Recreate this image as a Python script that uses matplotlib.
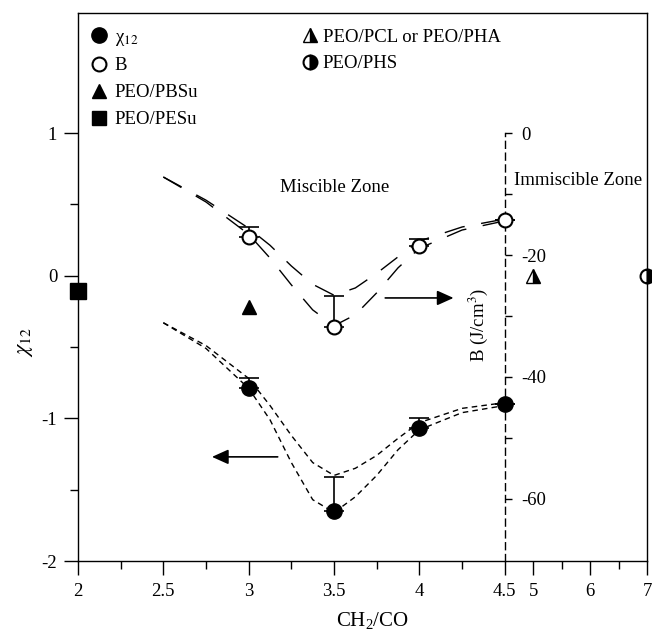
import numpy as np
import matplotlib
matplotlib.use("Agg")
import matplotlib.pyplot as plt
from matplotlib.lines import Line2D

plt.rcParams["font.family"] = ["Liberation Serif", "DejaVu Serif"]
plt.rcParams["mathtext.fontset"] = "stix"
plt.rcParams["axes.unicode_minus"] = False

# --- measured points (CH2/CO ratio) ---
ratio = [3.0, 3.5, 4.0, 4.5]
chi12 = [-0.79, -1.65, -1.07, -0.90]
chi12_err = [0.07, 0.24, 0.07, 0.0]
b_param = [-17.0, -31.8, -18.5, -14.3]
b_err = [1.6, 5.1, 1.1, 0.0]

# other blends
pesu_x, pesu_chi = [2.0], [-0.11]
pbsu_x, pbsu_chi = [3.0], [-0.22]
pcl_x, pcl_chi = [5.0], [0.0]
phs_x, phs_chi = [7.0], [0.0]

# dashed guide curves
fit_x = [2.5, 2.75, 3.0, 3.125, 3.25, 3.375, 3.5, 3.625, 3.75, 3.875, 4.0, 4.25, 4.5]
chi_fit_hi = [-0.33, -0.49, -0.72, -0.91, -1.12, -1.31, -1.40, -1.35, -1.26, -1.14, -1.03, -0.93, -0.89]
chi_fit_lo = [-0.33, -0.51, -0.79, -1.01, -1.31, -1.57, -1.66, -1.55, -1.40, -1.22, -1.08, -0.96, -0.91]
b_fit_hi = [-7.2, -11.0, -15.6, -18.4, -21.8, -24.8, -26.6, -25.4, -23.0, -20.3, -17.7, -15.4, -14.1]
b_fit_lo = [-7.2, -11.3, -16.6, -20.5, -24.9, -29.0, -31.6, -29.8, -26.2, -22.1, -18.9, -15.9, -14.4]

x_ticks = [2, 2.5, 3, 3.5, 4, 4.5, 5, 6, 7]
x_tick_labels = ["2", "2.5", "3", "3.5", "4", "4.5", "5", "6", "7"]
x_minor = [2.25, 2.75, 3.25, 3.75, 4.25, 5.5, 6.5]
chi_ticks = [1, 0, -1, -2]
chi_minor = [0.5, -0.5, -1.5]
b_ticks = [0, -20, -40, -60]
b_minor = [-10, -30, -50]


def fwd(x):
    x = np.asarray(x, dtype=float)
    return np.where(x <= 4.5, x, 4.5 + (x - 4.5) / 3.0)


def inv(y):
    y = np.asarray(y, dtype=float)
    return np.where(y <= 4.5, y, 4.5 + (y - 4.5) * 3.0)


FS = 13.5
fig = plt.figure(figsize=(6.52, 6.30), dpi=100)
ax = fig.add_axes([0.1196, 0.1095, 0.8727, 0.8698])
ax.set_xscale("function", functions=(fwd, inv))
ax.set_xlim(2, 7)
ax.set_ylim(-2, 1.841)

ax2 = ax.twinx()
ax2.set_ylim(-70.2, 19.7)

# --- guide curves ---
ax.plot(fit_x, chi_fit_hi, color="black", lw=1, dashes=(4, 3))
ax.plot(fit_x, chi_fit_lo, color="black", lw=1, dashes=(4, 3))
ax2.plot(fit_x, b_fit_hi, color="black", lw=1, dashes=(15, 12))
ax2.plot(fit_x, b_fit_lo, color="black", lw=1, dashes=(15, 12))

# --- data with one-sided error bars ---
ax.errorbar(ratio, chi12, yerr=[np.zeros(len(ratio)), chi12_err], fmt="none",
            ecolor="black", elinewidth=1.2, capsize=7, capthick=1.2, zorder=3)
ax.plot(ratio, chi12, "o", ms=11, mfc="black", mec="black", ls="none",
        zorder=4, clip_on=False)
ax2.errorbar(ratio, b_param, yerr=[np.zeros(len(ratio)), b_err], fmt="none",
             ecolor="black", elinewidth=1.2, capsize=7, capthick=1.2, zorder=3)
ax2.plot(ratio, b_param, "o", ms=10, mfc="white", mec="black", mew=1.5,
         ls="none", zorder=4, clip_on=False)

ax.plot(pesu_x, pesu_chi, "s", ms=11, color="black", clip_on=False, zorder=5)
ax.plot(pbsu_x, pbsu_chi, "^", ms=10, color="black", clip_on=False, zorder=5)
ax.plot(pcl_x, pcl_chi, "^", ms=10, mfc="black", mfcalt="white", mec="black",
        fillstyle="right", clip_on=False, zorder=5)
ax.plot(phs_x, phs_chi, "o", ms=10, mfc="black", mfcalt="white", mec="black",
        mew=1.5, fillstyle="right", clip_on=False, zorder=5)

# --- arrows pointing to the relevant axis ---
arrow = dict(arrowstyle="-|>,head_length=1.0,head_width=0.45",
             mutation_scale=10, lw=1.2, color="black", shrinkA=0, shrinkB=0)
ax.annotate("", xy=(4.20, -0.156), xytext=(3.80, -0.156), arrowprops=arrow)
ax.annotate("", xy=(2.785, -1.27), xytext=(3.17, -1.27), arrowprops=arrow)

ax.text(0.355, 0.682, "Miscible Zone", transform=ax.transAxes,
        ha="left", va="center", fontsize=FS)
ax.text(0.766, 0.695, "Immiscible Zone", transform=ax.transAxes,
        ha="left", va="center", fontsize=FS)

# --- left / bottom axes ---
ax.set_xticks(x_ticks)
ax.set_xticklabels(x_tick_labels)
ax.set_xticks(x_minor, minor=True)
ax.set_yticks(chi_ticks)
ax.set_yticklabels([str(t) for t in chi_ticks])
ax.set_yticks(chi_minor, minor=True)
ax.tick_params(which="both", direction="out", width=1, labelsize=FS,
               top=False, right=False)
ax.tick_params(which="major", length=10)
ax.tick_params(which="minor", length=5.5)
ax.tick_params(axis="x", which="major", pad=6)
ax.tick_params(axis="y", which="major", pad=5)
for s in ax.spines.values():
    s.set_linewidth(1)

ax.set_ylabel(r"$\chi_{12}$", fontsize=16)
ax.yaxis.label.set_verticalalignment("center")
ax.yaxis.set_label_coords(-0.093, 0.40)
ax.set_xlabel(r"$\mathregular{CH_2/CO}$", fontsize=15)
ax.xaxis.label.set_verticalalignment("center")
ax.xaxis.set_label_coords(0.517, -0.108)

# --- B axis drawn as dashed line at CH2/CO = 4.5 ---
for s in ["left", "top", "bottom"]:
    ax2.spines[s].set_visible(False)
ax2.spines["right"].set_position(("data", 4.5))
ax2.spines["right"].set_bounds(-70.2, 0)
ax2.spines["right"].set_linestyle((0, (5, 3.5)))
ax2.spines["right"].set_linewidth(1)
ax2.set_yticks(b_ticks)
ax2.set_yticklabels([str(t) for t in b_ticks])
ax2.set_yticks(b_minor, minor=True)
ax2.tick_params(axis="y", which="both", direction="out", length=5, width=1,
                pad=7, labelsize=FS)
ax.text(0.703, 0.43, "B (J/cm$^3$)", transform=ax.transAxes, rotation=90,
        ha="center", va="center", fontsize=FS)

# --- legends ---
h_left = [
    Line2D([], [], marker="o", ls="none", ms=11, color="black"),
    Line2D([], [], marker="o", ls="none", ms=10, mfc="white", mec="black", mew=1.5),
    Line2D([], [], marker="^", ls="none", ms=10, color="black"),
    Line2D([], [], marker="s", ls="none", ms=10, color="black"),
]
l_left = ["χ$_{12}$", "B", "PEO/PBSu", "PEO/PESu"]
leg1 = ax.legend(h_left, l_left, loc="upper left", bbox_to_anchor=(0.0204, 0.972),
                 frameon=False, fontsize=FS, handlelength=1.0, handletextpad=0.35,
                 borderpad=0, borderaxespad=0, labelspacing=0.52)
ax.add_artist(leg1)
h_right = [
    Line2D([], [], marker="^", ls="none", ms=10, mfc="black", mfcalt="white",
           mec="black", fillstyle="right"),
    Line2D([], [], marker="o", ls="none", ms=10, mfc="black", mfcalt="white",
           mec="black", mew=1.5, fillstyle="right"),
]
l_right = ["PEO/PCL or PEO/PHA", "PEO/PHS"]
ax.legend(h_right, l_right, loc="upper left", bbox_to_anchor=(0.391, 0.972),
          frameon=False, fontsize=FS, handlelength=1.0, handletextpad=0.19,
          borderpad=0, borderaxespad=0, labelspacing=0.52)

fig.savefig("out.png", dpi=100)
